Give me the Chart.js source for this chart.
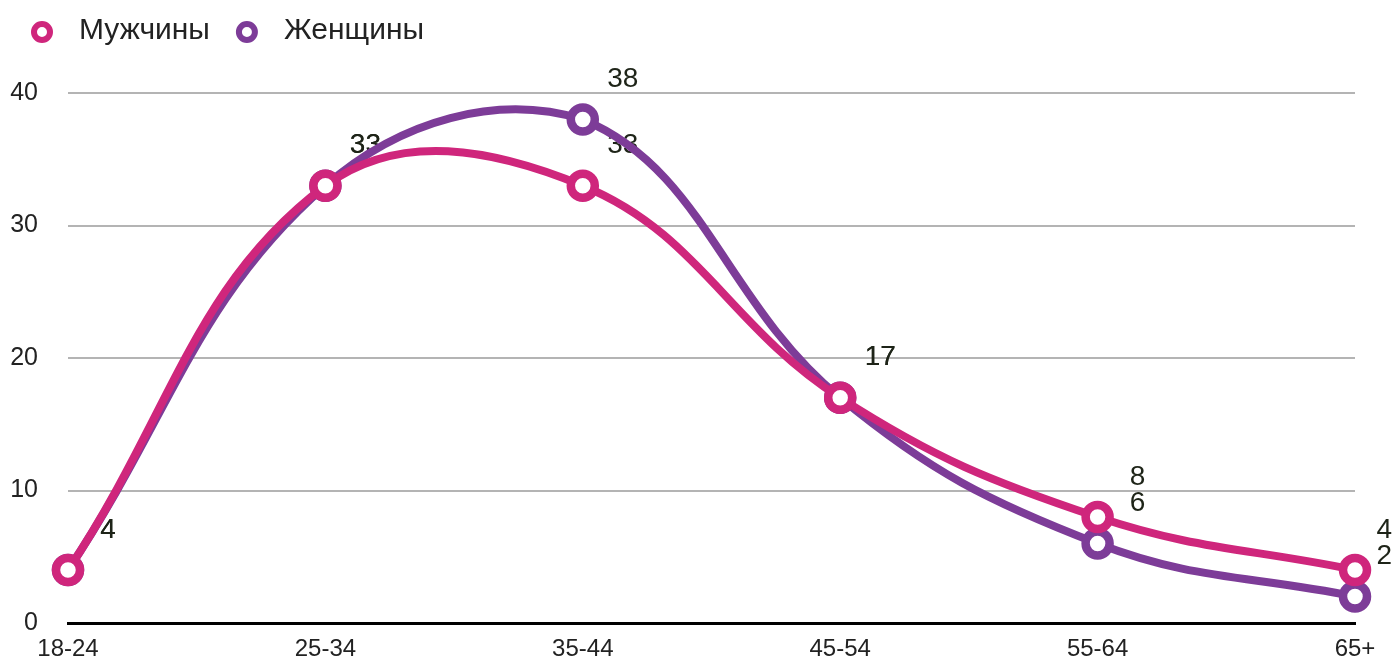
<!DOCTYPE html>
<html>
<head>
<meta charset="utf-8">
<script src="https://cdn.jsdelivr.net/npm/chart.js@4.4.1/dist/chart.umd.min.js"></script>
<style>
  html, body { margin: 0; padding: 0; background: #fff; }
  #wrap { width: 1397px; height: 668px; position: relative; }
</style>
</head>
<body>
<div id="wrap"><canvas id="chart"></canvas></div>
<script>
const ageGroups = ['18-24', '25-34', '35-44', '45-54', '55-64', '65+'];
const menValues = [4, 33, 33, 17, 8, 4];
const womenValues = [4, 33, 38, 17, 6, 2];
const yTicks = [0, 10, 20, 30, 40];

const MEN_COLOR = '#cf267c';
const WOMEN_COLOR = '#7d3c98';
const FONT = '"Liberation Sans", Arial, sans-serif';

// value labels, drawn before the lines so the lines sit on top
const valueLabels = {
  id: 'valueLabels',
  beforeDatasetsDraw(chart) {
    const ctx = chart.ctx;
    ctx.save();
    ctx.font = '28px ' + FONT;
    ctx.fillStyle = '#1e2418';
    ctx.textAlign = 'center';
    ctx.textBaseline = 'middle';
    chart.data.datasets.forEach((ds, i) => {
      chart.getDatasetMeta(i).data.forEach((pt, j) => {
        const txt = String(ds.data[j]);
        const half = ctx.measureText(txt).width / 2;
        // keep the last labels inside the canvas
        const x = Math.min(pt.x + 40, chart.width - 5 - half);
        ctx.fillText(txt, x, pt.y - 40);
      });
    });
    ctx.restore();
  }
};

// legend drawn by hand: ring marker, then the series name
const ringLegend = {
  id: 'ringLegend',
  afterDraw(chart) {
    const ctx = chart.ctx;
    ctx.save();
    ctx.font = '30px ' + FONT;
    ctx.textBaseline = 'middle';
    ctx.textAlign = 'left';
    let cx = 42;
    const cy = 32;
    chart.data.datasets.forEach(ds => {
      ctx.beginPath();
      ctx.arc(cx, cy, 8, 0, Math.PI * 2);
      ctx.fillStyle = '#fff';
      ctx.fill();
      ctx.lineWidth = 6;
      ctx.strokeStyle = ds.borderColor;
      ctx.stroke();
      ctx.fillStyle = '#222';
      ctx.fillText(ds.label, cx + 37, cy - 1);
      cx += 37 + ctx.measureText(ds.label).width + 37;
    });
    ctx.restore();
  }
};

new Chart(document.getElementById('chart'), {
  type: 'line',
  data: {
    labels: ageGroups,
    datasets: [
      {
        label: 'Мужчины',
        data: menValues,
        borderColor: MEN_COLOR,
        pointBorderColor: MEN_COLOR,
        pointBackgroundColor: '#fff',
        borderWidth: 8,
        pointRadius: 12,
        pointBorderWidth: 8.5,
        tension: 0.4,
        clip: false
      },
      {
        label: 'Женщины',
        data: womenValues,
        borderColor: WOMEN_COLOR,
        pointBorderColor: WOMEN_COLOR,
        pointBackgroundColor: '#fff',
        borderWidth: 8,
        pointRadius: 12,
        pointBorderWidth: 8.5,
        tension: 0.4,
        clip: false
      }
    ]
  },
  options: {
    responsive: true,
    maintainAspectRatio: false,
    animation: false,
    layout: { padding: { left: 0, right: 42, top: 93, bottom: 0 } },
    plugins: {
      tooltip: { enabled: false },
      legend: { display: false }
    },
    scales: {
      x: {
        offset: false,
        grid: { display: false, drawTicks: false },
        border: { display: true, color: '#000', width: 3 },
        ticks: {
          color: '#222',
          padding: 12,
          maxRotation: 0,
          font: { family: FONT, size: 24 }
        },
        afterFit(scale) { scale.height = 36; }
      },
      y: {
        min: 0,
        max: 40,
        afterBuildTicks(scale) { scale.ticks = yTicks.map(v => ({ value: v })); },
        grid: { color: '#b4b4b4', lineWidth: 2, drawTicks: false },
        border: { display: false },
        ticks: {
          color: '#222',
          padding: 30,
          font: { family: FONT, size: 25 }
        },
        afterFit(scale) { scale.width = 68; }
      }
    }
  },
  plugins: [valueLabels, ringLegend]
});
</script>
</body>
</html>
